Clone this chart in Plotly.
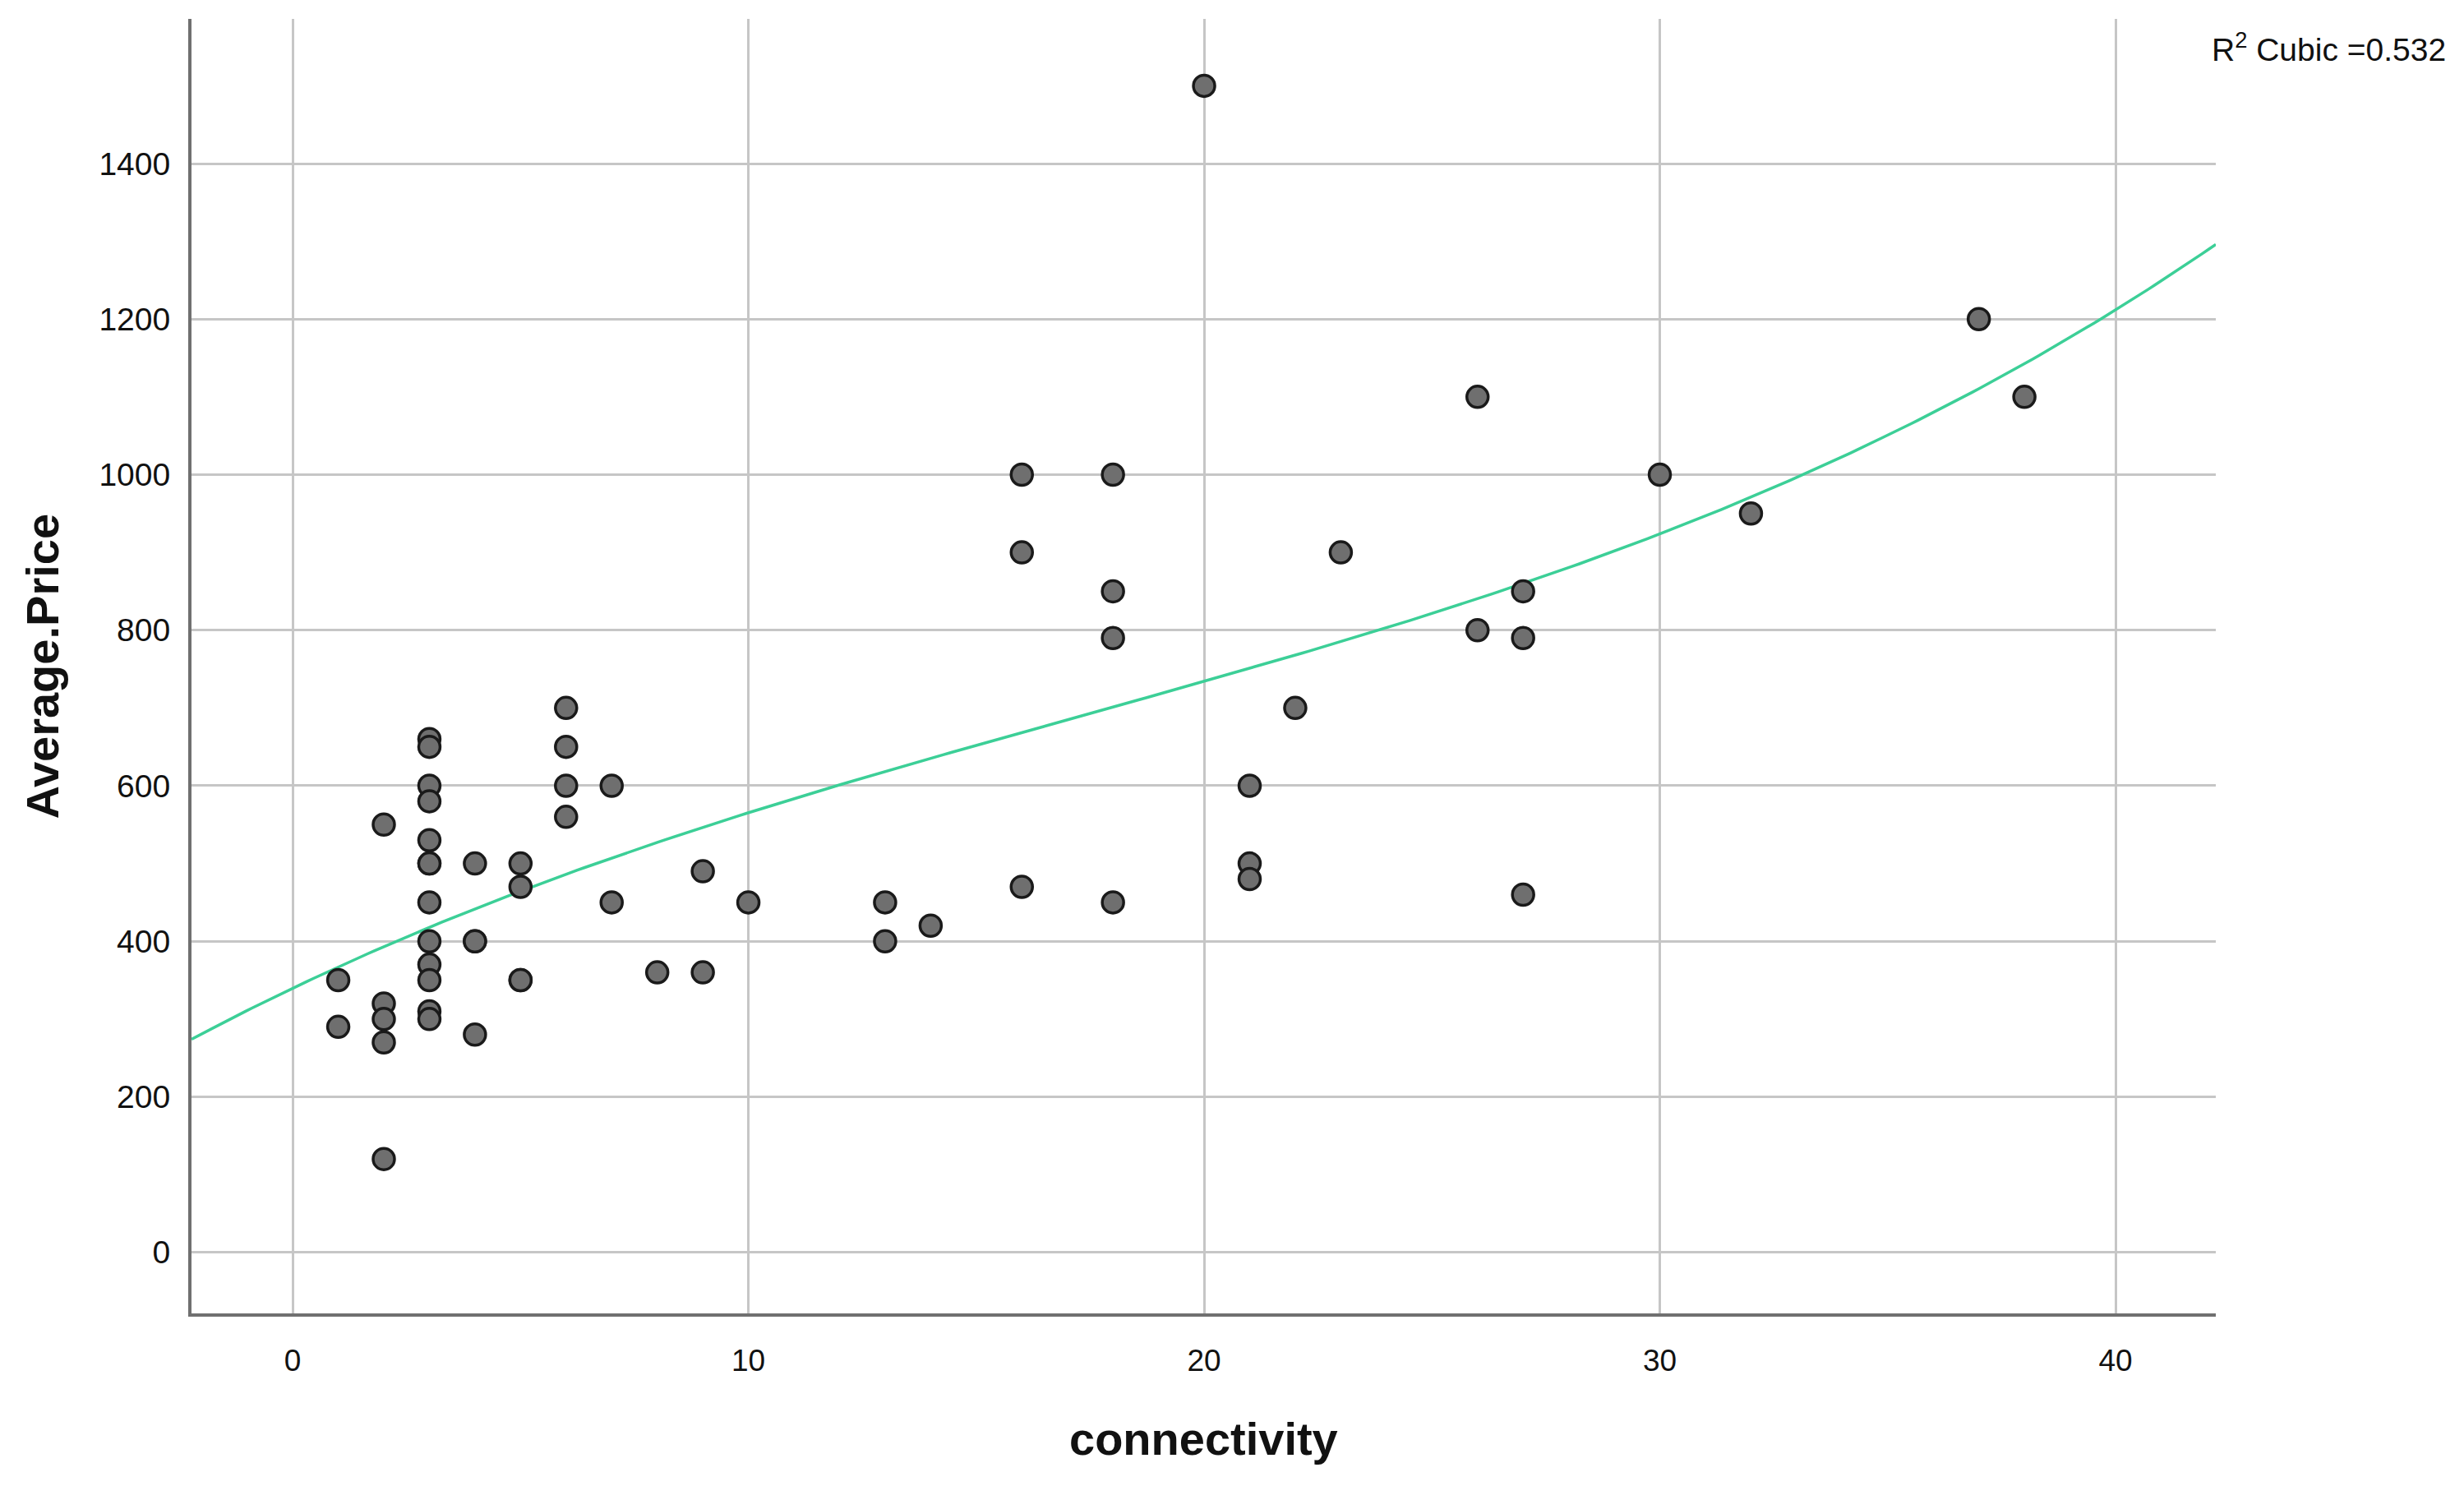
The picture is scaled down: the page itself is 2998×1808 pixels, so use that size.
import numpy as np
import plotly.graph_objects as go

# ---- data ----
connectivity = [
    1, 1,
    2, 2, 2, 2, 2,
    3, 3, 3, 3, 3, 3, 3, 3, 3, 3, 3, 3, 3,
    4, 4, 4, 4,
    5, 5, 5, 5,
    6, 6, 6, 6,
    7, 7,
    8,
    9, 9,
    10,
    13, 13,
    14,
    16, 16, 16,
    18, 18, 18, 18,
    20,
    21, 21, 21,
    22,
    23,
    26, 26,
    27, 27, 27,
    30,
    32,
    37,
    38,
]
average_price = [
    350, 290,
    550, 320, 300, 270, 120,
    660, 650, 600, 580, 530, 500, 500, 450, 400, 370, 350, 310, 300,
    500, 400, 400, 280,
    500, 470, 350, 350,
    700, 650, 600, 560,
    600, 450,
    360,
    490, 360,
    450,
    450, 400,
    420,
    1000, 900, 470,
    1000, 850, 790, 450,
    1500,
    600, 500, 480,
    700,
    900,
    1100, 800,
    850, 790, 460,
    1000,
    950,
    1200,
    1100,
]
x_ticks = [0, 10, 20, 30, 40]
y_ticks = [0, 200, 400, 600, 800, 1000, 1200, 1400]
r2_label = "R<sup>2</sup> Cubic =0.532"
x_title = "connectivity"
y_title = "Average.Price"

X_RANGE = [-2.22, 42.2]
Y_RANGE = [-78.5, 1586]

# cubic fit of the data (as in the SPSS fit line)
coef = np.polyfit(connectivity, average_price, 3)
xs = np.linspace(X_RANGE[0], X_RANGE[1], 300)
ys = np.polyval(coef, xs)

fig = go.Figure()
fig.add_trace(go.Scatter(
    x=xs, y=ys, mode="lines",
    line=dict(color="#3ccf97", width=3.5),
    hoverinfo="skip", showlegend=False,
))
fig.add_trace(go.Scatter(
    x=connectivity, y=average_price, mode="markers",
    marker=dict(size=26, color="#6f6f6f", line=dict(color="#1a1a1a", width=3.5)),
    showlegend=False,
))

fig.update_layout(
    width=2998, height=1808,
    margin=dict(l=225, r=310, t=15, b=218),
    paper_bgcolor="white", plot_bgcolor="white",
    font=dict(family="Liberation Sans, Arial, sans-serif", color="#111111"),
    xaxis=dict(
        range=X_RANGE, tickvals=x_ticks, ticktext=[str(v) for v in x_ticks],
        showgrid=True, gridcolor="#c6c6c6", gridwidth=3,
        showline=True, linecolor="#707070", linewidth=4,
        zeroline=False, ticks="", tickfont=dict(size=37, color="#111111"),
        ticklabelstandoff=22,
    ),
    yaxis=dict(
        range=Y_RANGE, tickvals=y_ticks, ticktext=[str(v) for v in y_ticks],
        showgrid=True, gridcolor="#c6c6c6", gridwidth=3,
        showline=True, linecolor="#707070", linewidth=4,
        zeroline=False, ticks="", tickfont=dict(size=39, color="#111111"),
        ticklabelstandoff=14,
    ),
    annotations=[
        dict(text=r2_label, xref="paper", yref="paper", x=1.1145, y=0.978,
             xanchor="right", yanchor="middle", showarrow=False,
             font=dict(size=39, color="#111111")),
        dict(text="<b>" + x_title + "</b>", xref="paper", yref="paper", x=0.5, y=-0.097,
             xanchor="center", yanchor="middle", showarrow=False,
             font=dict(size=56, color="#111111")),
        dict(text="<b>" + y_title + "</b>", xref="paper", yref="paper", x=-0.0735, y=0.5,
             xanchor="center", yanchor="middle", showarrow=False, textangle=-90,
             font=dict(size=56, color="#111111")),
    ],
)

fig.write_html("out.html")
